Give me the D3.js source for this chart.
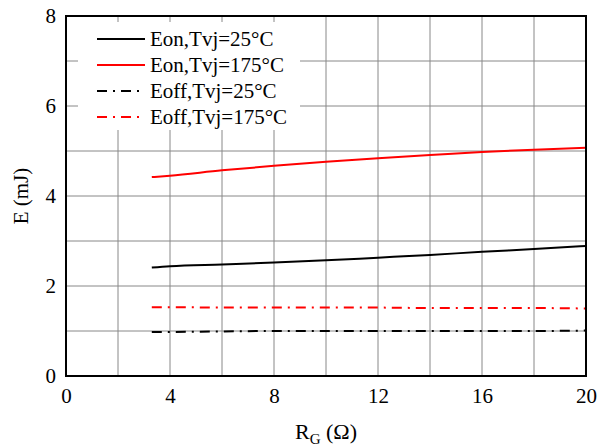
<!DOCTYPE html>
<html>
<head>
<meta charset="utf-8">
<script src="https://cdn.jsdelivr.net/npm/d3@7"></script>
<style>
  body { margin: 0; background: #fff; }
  svg text { font-family: "Liberation Serif", "Times New Roman", serif !important; fill: #000; }
</style>
</head>
<body>
<script>
// gate resistance values (ohm)
const rg = [3.3, 4, 6, 8, 10, 12, 14, 16, 18, 20];
// switching energies (mJ)
const eon25 = [2.41, 2.44, 2.48, 2.52, 2.57, 2.63, 2.69, 2.76, 2.82, 2.89];
const eon175 = [4.42, 4.45, 4.57, 4.67, 4.76, 4.84, 4.91, 4.98, 5.03, 5.07];
const eoff25 = [0.98, 0.98, 0.99, 1.0, 1.0, 1.0, 1.0, 1.0, 1.0, 1.01];
const eoff175 = [1.53, 1.53, 1.52, 1.52, 1.52, 1.52, 1.51, 1.51, 1.51, 1.5];
const seriesNames = ["Eon,Tvj=25°C", "Eon,Tvj=175°C", "Eoff,Tvj=25°C", "Eoff,Tvj=175°C"];
const xTicks = [0, 4, 8, 12, 16, 20];
const yTicks = [0, 2, 4, 6, 8];

const W = 606, H = 446;
const m = { left: 66, right: 20, top: 16, bottom: 70 };

const svg = d3.select("body").append("svg")
  .attr("width", W).attr("height", H);

const x = d3.scaleLinear().domain([0, 20]).range([m.left, W - m.right]);
const y = d3.scaleLinear().domain([0, 8]).range([H - m.bottom, m.top]);

// grid
const grid = svg.append("g").attr("stroke", "#888").attr("stroke-width", 1);
d3.range(2, 20, 2).forEach(v => {
  grid.append("line").attr("x1", x(v)).attr("x2", x(v))
    .attr("y1", y(0)).attr("y2", y(8));
});
d3.range(1, 8, 1).forEach(v => {
  grid.append("line").attr("x1", x(0)).attr("x2", x(20))
    .attr("y1", y(v)).attr("y2", y(v));
});

// legend background covers grid
svg.append("rect").attr("x", 78).attr("y", 22)
  .attr("width", 222).attr("height", 108).attr("fill", "#fff");

const series = [
  { name: seriesNames[0], vals: eon25, color: "#000", dash: null },
  { name: seriesNames[1], vals: eon175, color: "#f00", dash: null },
  { name: seriesNames[2], vals: eoff25, color: "#000", dash: "10,6,2,6" },
  { name: seriesNames[3], vals: eoff175, color: "#f00", dash: "10,6,2,6" }
];

const line = d3.line().x(d => x(d[0])).y(d => y(d[1])).curve(d3.curveMonotoneX);

series.forEach(s => {
  svg.append("path")
    .datum(rg.map((r, i) => [r, s.vals[i]]))
    .attr("d", line)
    .attr("fill", "none")
    .attr("stroke", s.color)
    .attr("stroke-width", 2)
    .attr("stroke-dasharray", s.dash);
});

// frame
svg.append("rect").attr("x", x(0)).attr("y", y(8))
  .attr("width", x(20) - x(0)).attr("height", y(0) - y(8))
  .attr("fill", "none").attr("stroke", "#000").attr("stroke-width", 2);

// axes labels
const xAxis = svg.append("g").attr("transform", `translate(0,${y(0)})`)
  .call(d3.axisBottom(x).tickValues(xTicks).tickSize(0).tickPadding(12).tickFormat(d3.format("d")));
const yAxis = svg.append("g").attr("transform", `translate(${x(0)},0)`)
  .call(d3.axisLeft(y).tickValues(yTicks).tickSize(0).tickPadding(10).tickFormat(d3.format("d")));
[xAxis, yAxis].forEach(a => {
  a.attr("font-family", null).attr("font-size", null);
  a.select(".domain").remove();
  a.selectAll("text").style("font-size", "21px");
});

// axis titles
const xt = svg.append("text").attr("x", 326).attr("y", 439)
  .attr("text-anchor", "middle").style("font-size", "22px");
xt.append("tspan").text("R");
xt.append("tspan").style("font-size", "15px").attr("dy", 5).text("G");
xt.append("tspan").attr("dy", -5).text(" (Ω)");

svg.append("text")
  .attr("transform", `translate(28,${(y(0) + y(8)) / 2}) rotate(-90)`)
  .attr("text-anchor", "middle").style("font-size", "21px")
  .text("E (mJ)");

// legend
series.forEach((s, i) => {
  const ly = 39 + i * 26;
  svg.append("line").attr("x1", 97).attr("x2", 145)
    .attr("y1", ly).attr("y2", ly)
    .attr("stroke", s.color).attr("stroke-width", 2)
    .attr("stroke-dasharray", s.dash);
  svg.append("text").attr("x", 150).attr("y", ly + 7)
    .style("font-size", "21px").text(s.name);
});
</script>
</body>
</html>
